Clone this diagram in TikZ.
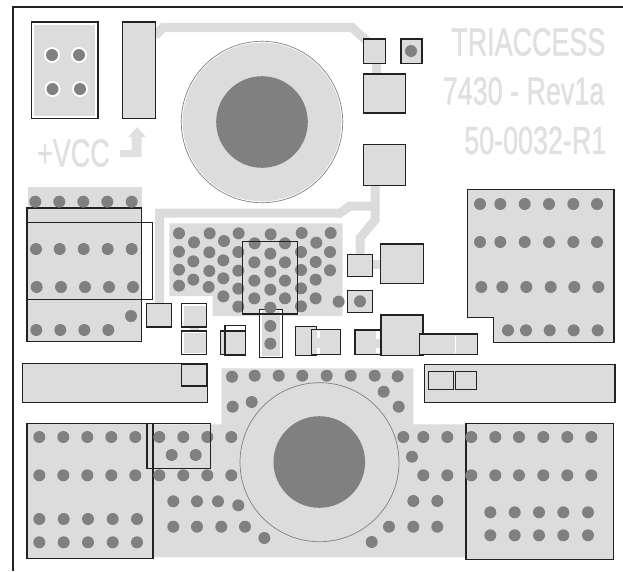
\documentclass[tikz,border=0pt]{standalone}
\usepackage{fontspec}
\setmainfont{Liberation Sans}
\newfontfamily\silkfont[FakeBold=1.6]{Liberation Sans}
\definecolor{copper}{HTML}{DCDCDC}
\definecolor{viagray}{HTML}{808080}
\definecolor{silk}{HTML}{222222}
\definecolor{labelgray}{HTML}{E0E0E0}
\tikzset{
    pad/.style={draw=silk, line width=1.1pt, fill=copper},
    outline/.style={draw=silk, line width=1.1pt},
    plane/.style={fill=copper},
    trace/.style={draw=copper, line width=9pt},
    via/.style={fill=viagray},
    boardtext/.style={text=labelgray, font=\silkfont\fontsize{39}{39}\selectfont, xscale=0.69, transform shape, inner sep=0pt}
}
\begin{document}
\begin{tikzpicture}[x=1pt, y=-1pt]
    \useasboundingbox (0,0) rectangle (623,571);
    % board edge
    \draw [line width=1.1pt, draw=silk] (13,571)--(13,7)--(623,7);

    % traces
    \draw [trace] (155,36)--(163,27.5)--(352,27.5)--(368,42)--(376.5,50)--(376.5,80);
    \draw [trace] (375,180)--(375,220)--(360,238)--(360,258);
    \draw [trace] (375,206)--(350,206)--(340,213)--(159.5,213)--(159.5,304);
    \draw [trace] (370,264)--(385,264);
    \draw [trace] (194,325)--(194,333);

    % copper areas
    \fill [plane] (27.7,187.3) rectangle (141.7,208);
    \fill [plane] (169.3,223.3)--(342.7,223.3)--(342.7,316)--(212.7,316)--(212.7,296)--(169.3,296)--cycle;
    \fill [plane] (221.7,368.3)--(413.3,368.3)--(413.3,424.3)--(466,424.3)--(466,557.3)--(153,557.3)--(153,424.3)--(221.7,424.3)--cycle;

    % top left header and strap
    \draw [outline, fill=white] (31.5,22) rectangle (98,118.5);
    \fill [plane] (34,25) rectangle (95,116);
    \draw [pad] (122.5,22) rectangle (155.5,118.5);
    \foreach \vx/\vy in {52/55, 79/55, 52.5/89, 80/89} {
        \fill [white] (\vx,\vy) circle (8);
        \fill [via] (\vx,\vy) circle (6);
    }

    % upper capacitor
    \draw [draw=viagray, line width=0.7pt, fill=white] (262,122) circle (80.7);
    \fill [plane] (262,122) circle (79.3);
    \fill [via] (262,122) circle (45.8);

    % lower capacitor
    \draw [draw=viagray, line width=0.7pt, fill=copper] (319.5,462.2) circle (79.5);
    \fill [via] (319.3,462) circle (45.8);

    % small parts top right
    \draw [pad] (363.3,39) rectangle (385.7,63.7);
    \draw [pad] (401,39) rectangle (422,63.5);
    \draw [pad] (363.3,74) rectangle (405.7,113);
    \draw [pad] (363.3,144.5) rectangle (405.7,185.5);
    \draw [pad] (347.3,254.3) rectangle (372.7,276.7);
    \draw [pad] (380.7,244) rectangle (423.3,283.3);
    \draw [pad] (347.3,290.7) rectangle (372.3,312.3);

    % right pad with notch
    \draw [pad] (467.3,189.3)--(614,189.3)--(614,342.7)--(493.7,342.7)--(493.7,317.7)--(467.3,317.7)--cycle;

    % left block
    \fill [plane] (27,208) rectangle (141.3,341.7);
    \draw [outline] (27,208) rectangle (141.3,341.7);
    \draw [outline] (27,222.3) rectangle (152.7,299.3);
    \fill [plane] (27.6,223) rectangle (140.7,298.7);
    \draw [outline] (27,222.3)--(141.3,222.3);
    \draw [outline] (141.3,208)--(141.3,341.7);

    % parts row
    \draw [pad] (146.7,303.7) rectangle (171.7,327);
    \draw [outline, fill=white] (181.7,303.7) rectangle (206.7,327);
    \fill [plane] (183.5,305.5) rectangle (205.5,325.5);
    \draw [outline, fill=white] (181.7,331) rectangle (206.7,354.7);
    \fill [plane] (183.5,332.5) rectangle (205.5,353);
    \draw [pad] (220.3,331) rectangle (245.3,354.7);
    \draw [outline] (225,325.7) rectangle (245.3,355.7);
    \draw [outline, fill=white] (259.7,309.3) rectangle (282.7,357.3);
    \fill [plane] (261.5,311) rectangle (279.5,355.5);
    \draw [pad] (295.3,326.7) rectangle (316.3,355.7);
    \draw [pad] (311.7,329.7) rectangle (340.7,354.7);
    \fill [white] (317,331) rectangle (320,338);
    \fill [white] (317,348) rectangle (320,353.5);
    \draw [pad] (355,330) rectangle (384,354.3);
    \fill [white] (376,331) rectangle (381,339);
    \fill [white] (376,348) rectangle (381,353);
    \draw [pad] (381,315) rectangle (423,355.7);
    \draw [pad] (419.7,334) rectangle (477.7,354.3);
    \draw [draw=white, line width=0.7pt] (455,336) -- (455,352.5);

    % strips
    \draw [pad] (22.7,363.3) rectangle (207.3,402.3);
    \draw [outline, line width=1.5pt] (181.7,364.3) rectangle (206.7,386);
    \draw [pad] (424.3,364.3) rectangle (615,402.3);
    \draw [outline] (428.3,371.7) rectangle (453.7,389.3);
    \draw [outline] (455.7,371.7) rectangle (476.3,389.3);

    % bottom pads
    \draw [pad] (27,423.7) rectangle (153,558.3);
    \draw [pad] (466,423.7) rectangle (613.7,559.7);

    % vias, left block
    \foreach \vx/\vy in {35.3/201.7, 59.3/201.7, 83.3/201.7, 107.3/201.7, 131.7/201.7,
        36/249, 59.7/249, 83.7/249, 107.7/249, 131.7/249,
        36.7/287, 61/287, 85/287, 109/287, 133/287,
        36.3/330, 60.3/330, 84.3/330, 108.3/330, 131/316} {
        \fill [via] (\vx,\vy) circle (6);
    }
    % vias, centre block
    \foreach \zx/\zy in {117/100, 117/155, 117/209, 117/257,
        162/127, 160/184, 160/239,
        209/100, 208/157, 208/213, 206/261,
        252/123, 250/181, 250/235, 250/289,
        296/100, 295/156, 295/212, 295/266, 295/320,
        344/130, 343/187, 343/242, 343/295,
        392/103, 391/161, 391/215, 391/269, 391/323,
        435/130, 435/187, 435/242, 435/295,
        485/99, 483/156, 483/210, 483/265, 483/319,
        529/128, 527/186, 527/239, 527/295,
        572/99, 570/156, 570/211,
        596/305, 660/304, 391/378, 391/431} {
        \fill [via] ({140+\zx/3},{200+\zy/3}) circle (6);
    }
    % via in top right part
    \fill [via] (411,51) circle (6);
    % vias, right pad
    \foreach \vx in {480, 500.3, 524.7, 549, 573.3, 597} {
        \fill [via] (\vx,204) circle (6);
        \fill [via] (\vx,242) circle (6);
    }
    \foreach \vx in {481.3, 502.3, 526.3, 550.7, 574.3, 598.3} {
        \fill [via] (\vx,287) circle (6);
    }
    \foreach \vx in {508, 526, 549.7, 573.7, 597.7} {
        \fill [via] (\vx,330.3) circle (6);
    }
    % vias, bottom plane
    \foreach \vx/\vy in {39.3/437, 63.3/437, 87.3/437, 111.3/437, 135.3/437,
        39.3/475.3, 63.3/475.3, 87.3/475.3, 111.3/475.3, 135.3/475.3,
        39.3/519, 63.7/519, 88/519, 112.7/519, 137/519,
        39.3/542.3, 63.7/542.3, 88/542.3, 112.7/542.3, 137/542.3,
        159.3/437, 183.3/437, 207.3/437, 231.3/437,
        159.3/475.3, 183.3/475.3, 207.3/475.3, 231.3/475.3,
        171.7/455, 195.7/455,
        173.3/501.3, 197/501.3, 218/501.3, 238.3/505.3,
        173.3/526.7, 197/526.7, 221.3/526.7, 245/526.7, 264.3/538,
        232/376.7, 254.7/375.7, 278.7/375.7, 302.3/375.7,
        232.7/406.7, 251.7/402,
        326.7/375.7, 350.7/375.7, 374.7/375.7, 397.7/376.3,
        383.7/391.7, 398.7/406.7,
        403.3/437, 423.3/437, 447.3/437, 471.3/437,
        412/456.7,
        423.3/475.3, 447.3/475.3, 471.3/475.3,
        413.3/501, 437.3/501,
        389/526.7, 413.3/526.7, 437.3/526.7, 371.7/542,
        495.3/437, 519/437, 543.3/437, 567.3/437, 591.3/437,
        495.3/475.3, 519/475.3, 543.3/475.3, 567.3/475.3, 591.3/475.3,
        490.3/512.3, 514.7/512.3, 539/512.3, 563.3/512.3, 588/512.3,
        490.3/535.3, 514.7/535.3, 539/535.3, 563.3/535.3, 588/535.3} {
        \fill [via] (\vx,\vy) circle (6);
    }

    % outlines over the vias
    \draw [outline] (242.3,241.3) rectangle (297.3,314);
    \draw [outline] (147,423.7) rectangle (210.7,468.3);

    % board labels
    \node (brand) [boardtext, anchor=east] at (605.5,42) {TRIACCESS};
    \node (part) [boardtext, anchor=east] at (604.5,91) {7430 - Rev1a};
    \node (rev) [boardtext, anchor=east] at (606.5,140.5) {50-0032-R1};
    \node (vcc) [boardtext, anchor=west] at (37,153) {+VCC};
    \fill [labelgray] (120,150)--(131.7,150)--(131.7,137)--(128.3,137)--(137,127)--(146,137)--(141.7,137)--(141.7,157)--(120,157)--cycle;
\end{tikzpicture}
\end{document}
